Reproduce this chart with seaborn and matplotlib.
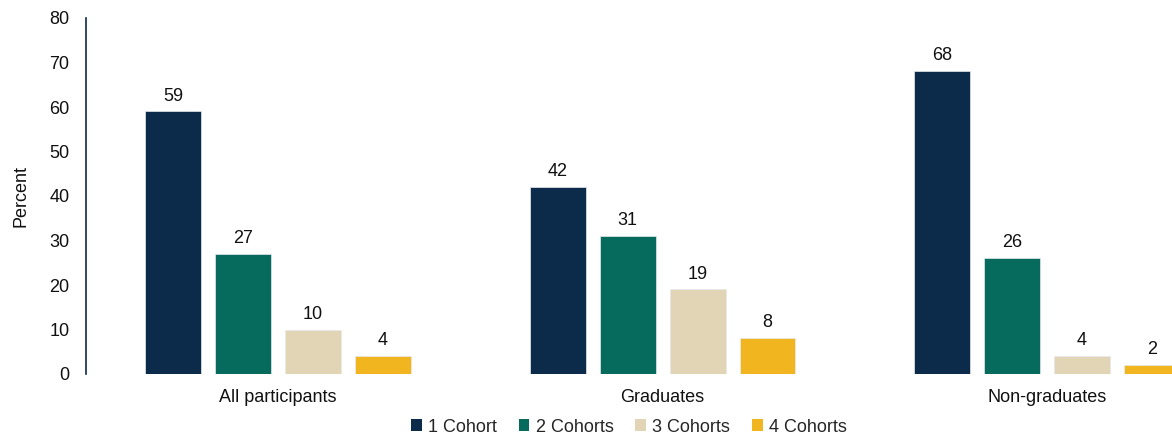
import matplotlib
matplotlib.use("Agg")
import matplotlib.pyplot as plt
import seaborn as sns
import pandas as pd
from matplotlib.patches import Patch

# Share of participants by number of cohorts attended
groups = ["All participants", "Graduates", "Non-graduates"]
cohorts = ["1 Cohort", "2 Cohorts", "3 Cohorts", "4 Cohorts"]
one_cohort = [59, 42, 68]
two_cohorts = [27, 31, 26]
three_cohorts = [10, 19, 4]
four_cohorts = [4, 8, 2]
y_ticks = [0, 10, 20, 30, 40, 50, 60, 70, 80]

colors = ["#0C2A4A", "#066B5C", "#E1D5B5", "#F0B51F"]
FS = 13

series = [one_cohort, two_cohorts, three_cohorts, four_cohorts]
rows = []
for name, vals in zip(cohorts, series):
    for g, v in zip(groups, vals):
        rows.append({"group": g, "cohort": name, "value": v})
df = pd.DataFrame(rows)

sns.set_theme(style="white")
plt.rcParams["font.family"] = ["Liberation Sans", "DejaVu Sans"]

fig = plt.figure(figsize=(11.72, 4.37), dpi=100)
ax = fig.add_axes([86 / 1172, 63 / 437, 1 - 86 / 1172, 356 / 437])

sns.barplot(
    data=df, x="group", y="value", hue="cohort",
    order=groups, hue_order=cohorts, palette=colors,
    saturation=1, width=0.728, gap=0.2,
    edgecolor="#e6eaee", linewidth=0.5, ax=ax, legend=False,
)

for cont, vals in zip(ax.containers, series):
    ax.bar_label(cont, labels=[f"{v:.0f}" for v in vals], padding=5,
                 fontsize=FS, color="#111111")

ax.set_xlim(-0.4994, 2.325)
ax.set_ylim(0, 80)
ax.set_yticks(y_ticks)
ax.tick_params(axis="y", length=0, pad=12, labelsize=FS, labelcolor="#111111")
ax.tick_params(axis="x", length=0, pad=11, labelsize=FS, labelcolor="#111111")
ax.set_xlabel("")
ax.set_ylabel("Percent", fontsize=FS, color="#111111", labelpad=14)

for side in ["top", "right", "bottom"]:
    ax.spines[side].set_visible(False)
ax.spines["left"].set_color("#0C2A4A")
ax.spines["left"].set_linewidth(1.2)

handles = [Patch(facecolor=c, edgecolor="none") for c in colors]
fig.legend(handles, cohorts, loc="center", bbox_to_anchor=(629 / 1172, 10 / 437),
           ncol=4, frameon=False, fontsize=FS, handlelength=0.6,
           handleheight=0.6, handletextpad=0.35, columnspacing=1.2,
           borderaxespad=0, borderpad=0)

fig.savefig("out.png", dpi=100)
